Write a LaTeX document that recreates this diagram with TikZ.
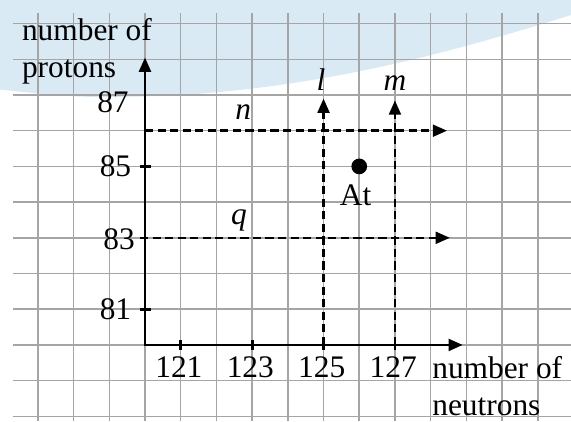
\documentclass[tikz,border=0pt]{standalone}
\usepackage{fontspec}
\setmainfont{Liberation Serif}
\usepackage{tikz}
\usetikzlibrary{arrows.meta, positioning}
\definecolor{capblue}{RGB}{217,234,245}
\definecolor{gridgray}{RGB}{165,165,165}

\begin{document}
\begin{tikzpicture}[
    font=\fontsize{25}{29}\selectfont,
    >={Triangle[length=4mm, width=3.3mm]},
    gridline/.style={gridgray, line width=1.2pt},
    axisline/.style={<->, line width=2.3pt},
    track/.style={->, line width=2.1pt, dash pattern=on 6.5pt off 3.5pt},
    tickmark/.style={line width=2.3pt},
    numlabel/.style={inner sep=0pt},
    axlabel/.style={inner sep=0pt, align=left, anchor=north west},
    linelabel/.style={inner sep=0pt, anchor=base, font=\fontsize{25}{29}\selectfont\itshape},
    nucleus/.style={circle, fill, inner sep=0pt, minimum size=0.44cm}
]

% picture frame
\useasboundingbox (-4.06,-2.13) rectangle (11.93,9.66);

% blue cap at the top
\fill[capblue] (-4.06,9.66) -- (11.93,9.66) -- (11.93,9.24)
    .. controls (8,8) and (4,7) .. (-0.5,6.95)
    .. controls (-2,6.9) and (-3,7.05) .. (-4.06,7.15) -- cycle;

% squared paper
\foreach \x in {-3,...,11}
    \draw[gridline] (\x,-2.13) -- (\x,9.3);
\foreach \y in {-2,...,9}
    \draw[gridline] (-3.7,\y) -- (11.93,\y);

% axes
\coordinate (origin) at (0,0);
\coordinate (ytop) at (0,8.05);
\coordinate (xend) at (8.9,0);
\draw[axisline] (ytop) -- (origin) -- (xend);

% neutron ticks
\foreach \n/\lab in {1/121,3/123,5/125,7/127} {
    \draw[tickmark] (\n,-0.14) -- (\n,0.14);
    \node[numlabel, anchor=base] (n\lab) at (\n-0.05,-0.9) {\lab};
}

% proton ticks
\foreach \p/\lab in {1/81,5/85} {
    \draw[tickmark] (-0.14,\p) -- (0.17,\p);
    \node[numlabel, anchor=east] (p\lab) at (-0.38,\p) {\lab};
}
\node[numlabel, anchor=east] (p83) at (-0.28,2.95) {83};
\node[numlabel, anchor=east] (p87) at (-0.45,6.8) {87};

% axis titles
\node[axlabel] (ytitle) at (-3.45,9.14) {number of\\protons};
\node[axlabel] (xtitle) at (8.04,-0.32) {number of\\neutrons};

% dashed lines
\coordinate (nstart) at (0,6);
\coordinate (nend) at (8.46,6);
\coordinate (qstart) at (-0.14,3);
\coordinate (qend) at (8.54,3);
\coordinate (lstart) at (5,0);
\coordinate (lend) at (5,6.9);
\coordinate (mstart) at (7,0);
\coordinate (mend) at (7,6.85);
\draw[track] (nstart) -- (nend);
\draw[track] (qstart) -- (qend);
\draw[track] (lstart) -- (lend);
\draw[track] (mstart) -- (mend);

\node[linelabel] (nlab) at (2.75,6.3) {n};
\node[linelabel] (qlab) at (2.63,3.36) {q};
\node[linelabel] (llab) at (4.93,7.12) {l};
\node[linelabel] (mlab) at (7.0,7.12) {m};

% astatine
\node[nucleus] (at) at (6,5) {};
\node[numlabel, below=0.28cm of at, xshift=-0.1cm] (atlab) {At};

\end{tikzpicture}
\end{document}
